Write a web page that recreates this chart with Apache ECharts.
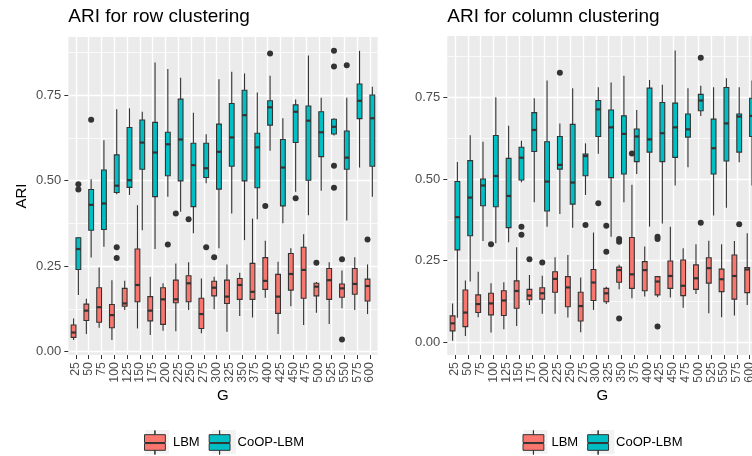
<!DOCTYPE html>
<html>
<head>
<meta charset="utf-8">
<script src="https://cdn.jsdelivr.net/npm/echarts@6/dist/echarts.min.js"></script>
<style>
  html, body { margin: 0; padding: 0; background: #fff; }
  #chart { width: 752px; height: 456px; }
</style>
</head>
<body>
<div id="chart"></div>
<script>
// number of groups G (x categories)
const G = ['25', '50', '75', '100', '125', '150', '175', '200', '225', '250', '275', '300',
  '325', '350', '375', '400', '425', '450', '475', '500', '525', '550', '575', '600']

// box stats per G: [lower whisker, Q1, median, Q3, upper whisker]
// row clustering
const rowLBM = [
  [0.034, 0.042, 0.056, 0.078, 0.097], [0.052, 0.091, 0.120, 0.139, 0.155], [0.070, 0.086, 0.130, 0.187, 0.246],
  [0.034, 0.070, 0.107, 0.138, 0.209], [0.122, 0.133, 0.141, 0.185, 0.207], [0.068, 0.146, 0.195, 0.300, 0.428],
  [0.049, 0.090, 0.120, 0.161, 0.219], [0.061, 0.080, 0.153, 0.187, 0.200], [0.060, 0.143, 0.153, 0.209, 0.258],
  [0.122, 0.146, 0.200, 0.222, 0.261], [0.054, 0.068, 0.110, 0.156, 0.214], [0.124, 0.163, 0.187, 0.206, 0.219],
  [0.058, 0.141, 0.161, 0.209, 0.255], [0.104, 0.153, 0.195, 0.214, 0.231], [0.100, 0.153, 0.175, 0.258, 0.389],
  [0.158, 0.182, 0.207, 0.275, 0.324], [0.052, 0.112, 0.161, 0.226, 0.263], [0.133, 0.180, 0.227, 0.287, 0.302],
  [0.078, 0.156, 0.239, 0.305, 0.343], [0.114, 0.163, 0.190, 0.200, 0.204], [0.081, 0.153, 0.209, 0.243, 0.261],
  [0.127, 0.159, 0.185, 0.198, 0.237], [0.122, 0.168, 0.198, 0.243, 0.276], [0.110, 0.148, 0.192, 0.212, 0.255]
]
const rowCoOP = [
  [0.166, 0.240, 0.300, 0.333, 0.335], [0.275, 0.355, 0.429, 0.474, 0.504], [0.307, 0.357, 0.433, 0.531, 0.618],
  [0.460, 0.465, 0.485, 0.575, 0.708], [0.458, 0.480, 0.501, 0.655, 0.711], [0.355, 0.533, 0.611, 0.677, 0.701],
  [0.300, 0.453, 0.582, 0.670, 0.845], [0.453, 0.514, 0.606, 0.641, 0.826], [0.409, 0.499, 0.620, 0.738, 0.800],
  [0.346, 0.424, 0.545, 0.609, 0.698], [0.492, 0.509, 0.536, 0.609, 0.635], [0.302, 0.475, 0.584, 0.665, 0.796],
  [0.404, 0.542, 0.626, 0.725, 0.818], [0.326, 0.499, 0.691, 0.764, 0.813], [0.387, 0.479, 0.597, 0.638, 0.757],
  [0.587, 0.662, 0.714, 0.733, 0.806], [0.375, 0.426, 0.538, 0.620, 0.682], [0.467, 0.611, 0.701, 0.721, 0.737],
  [0.399, 0.501, 0.675, 0.718, 0.865], [0.470, 0.570, 0.641, 0.701, 0.742], [0.632, 0.636, 0.657, 0.679, 0.682],
  [0.383, 0.533, 0.567, 0.645, 0.742], [0.538, 0.681, 0.733, 0.782, 0.879], [0.453, 0.542, 0.682, 0.750, 0.774]
]
// outliers: [G, ARI]
const rowLBMOut = [['225', 0.404], ['250', 0.387], ['300', 0.276], ['400', 0.426], ['500', 0.260],
  ['550', 0.270], ['550', 0.036], ['600', 0.328]]
const rowCoOPOut = [['25', 0.489], ['25', 0.474], ['50', 0.678], ['100', 0.305], ['100', 0.274],
  ['200', 0.313], ['275', 0.305], ['400', 0.871], ['450', 0.448], ['525', 0.879], ['525', 0.833],
  ['525', 0.543], ['525', 0.479], ['550', 0.837]]

// column clustering
const colLBM = [
  [0.005, 0.035, 0.058, 0.081, 0.119], [0.019, 0.048, 0.091, 0.160, 0.189], [0.077, 0.091, 0.117, 0.145, 0.216],
  [0.030, 0.084, 0.119, 0.150, 0.181], [0.040, 0.082, 0.128, 0.158, 0.184], [0.050, 0.104, 0.157, 0.188, 0.291],
  [0.114, 0.130, 0.143, 0.162, 0.206], [0.087, 0.132, 0.150, 0.167, 0.204], [0.087, 0.153, 0.194, 0.216, 0.260],
  [0.076, 0.109, 0.168, 0.201, 0.267], [0.031, 0.065, 0.111, 0.153, 0.198], [0.099, 0.128, 0.183, 0.223, 0.336],
  [0.117, 0.124, 0.150, 0.165, 0.170], [0.162, 0.184, 0.221, 0.230, 0.237], [0.135, 0.165, 0.208, 0.321, 0.482],
  [0.140, 0.158, 0.221, 0.247, 0.293], [0.138, 0.145, 0.186, 0.201, 0.203], [0.137, 0.165, 0.203, 0.249, 0.354],
  [0.106, 0.143, 0.173, 0.252, 0.288], [0.148, 0.162, 0.196, 0.237, 0.300], [0.089, 0.181, 0.227, 0.259, 0.311],
  [0.077, 0.155, 0.193, 0.224, 0.300], [0.082, 0.132, 0.203, 0.267, 0.310], [0.114, 0.152, 0.223, 0.229, 0.334]
]
const colCoOP = [
  [0.075, 0.283, 0.383, 0.492, 0.552], [0.186, 0.326, 0.443, 0.556, 0.634], [0.310, 0.418, 0.480, 0.500, 0.614],
  [0.303, 0.415, 0.509, 0.633, 0.750], [0.306, 0.351, 0.448, 0.563, 0.663], [0.490, 0.497, 0.565, 0.597, 0.617],
  [0.429, 0.584, 0.650, 0.703, 0.747], [0.354, 0.402, 0.492, 0.614, 0.801], [0.393, 0.530, 0.543, 0.630, 0.670],
  [0.351, 0.423, 0.489, 0.667, 0.778], [0.451, 0.510, 0.570, 0.576, 0.609], [0.577, 0.630, 0.713, 0.740, 0.781],
  [0.323, 0.504, 0.658, 0.711, 0.795], [0.429, 0.515, 0.638, 0.693, 0.816], [0.515, 0.553, 0.630, 0.653, 0.711],
  [0.354, 0.582, 0.621, 0.778, 0.803], [0.364, 0.553, 0.640, 0.734, 0.788], [0.480, 0.566, 0.658, 0.732, 0.893],
  [0.536, 0.628, 0.652, 0.699, 0.778], [0.693, 0.709, 0.740, 0.759, 0.785], [0.388, 0.515, 0.594, 0.683, 0.781],
  [0.412, 0.555, 0.670, 0.780, 0.808], [0.551, 0.582, 0.691, 0.699, 0.781], [0.480, 0.630, 0.693, 0.747, 0.801]
]
const colLBMOut = [['100', 0.300], ['175', 0.254], ['200', 0.244], ['325', 0.357], ['325', 0.277],
  ['350', 0.316], ['350', 0.308], ['350', 0.073], ['375', 0.578], ['425', 0.323], ['425', 0.316], ['425', 0.048]]
const colCoOPOut = [['150', 0.354], ['150', 0.329], ['225', 0.825], ['275', 0.359], ['300', 0.426],
  ['500', 0.871], ['500', 0.366], ['575', 0.361]]

const yTicks = [0, 0.25, 0.5, 0.75]
const yMinor = [0.125, 0.375, 0.625, 0.875]

const FONT = 'Liberation Sans, Arial, Helvetica, sans-serif'
const RED = '#F8766D'
const TEAL = '#00BFC4'
const DODGE = 0.1875 // box centre offset, in category units
const BOXW = 0.375 // box width, in category units

// one entry per facet
const panels = [
  { title: 'ARI for row clustering', left: 68.3, width: 309.3, top: 37, height: 318,
    yMin: -0.0096, yMax: 0.9194, yName: 'ARI', legendLeft: 144,
    lbm: rowLBM, coop: rowCoOP, lbmOut: rowLBMOut, coopOut: rowCoOPOut },
  { title: 'ARI for column clustering', left: 447.3, width: 310, top: 36, height: 319,
    yMin: -0.0389, yMax: 0.9376, yName: '', legendLeft: 522.5,
    lbm: colLBM, coop: colCoOP, lbmOut: colLBMOut, coopOut: colCoOPOut }
]

function boxRenderer (shift, fill) {
  return function (params, api) {
    const x = api.value(0)
    const lo = api.coord([x, api.value(1)])
    const q1 = api.coord([x, api.value(2)])
    const med = api.coord([x, api.value(3)])
    const q3 = api.coord([x, api.value(4)])
    const hi = api.coord([x, api.value(5)])
    const band = api.size([1, 0])[0]
    const cx = lo[0] + shift * band
    const w = band * BOXW
    const line = { stroke: '#333333', lineWidth: 1.1 }
    return {
      type: 'group',
      children: [
        { type: 'line', shape: { x1: cx, y1: hi[1], x2: cx, y2: q3[1] }, style: line },
        { type: 'line', shape: { x1: cx, y1: q1[1], x2: cx, y2: lo[1] }, style: line },
        { type: 'rect', shape: { x: cx - w / 2, y: q3[1], width: w, height: q1[1] - q3[1] },
          style: { fill: fill, stroke: '#333333', lineWidth: 1.1 } },
        { type: 'line', shape: { x1: cx - w / 2, y1: med[1], x2: cx + w / 2, y2: med[1] },
          style: { stroke: '#333333', lineWidth: 2.2 } }
      ]
    }
  }
}

function dotRenderer (shift) {
  return function (params, api) {
    const c = api.coord([api.value(0), api.value(1)])
    const band = api.size([1, 0])[0]
    return { type: 'circle', shape: { cx: c[0] + shift * band, cy: c[1], r: 3 }, style: { fill: '#333333' } }
  }
}

const keyIcon = 'path://M9.9,0L10.1,0L10.1,4L9.9,4Z M0,4L20,4L20,11.5L0,11.5Z M0,12.5L20,12.5L20,19L0,19Z M9.9,19L10.1,19L10.1,23L9.9,23Z'

const option = {
  animation: false,
  textStyle: { fontFamily: FONT },
  title: [],
  grid: [],
  xAxis: [],
  yAxis: [],
  legend: [],
  graphic: [],
  series: []
}

panels.forEach(function (p, k) {
  option.title.push({
    text: p.title, left: p.left, top: 7, padding: 0,
    textStyle: { fontSize: 19, fontWeight: 'normal', color: '#000', fontFamily: FONT }
  })
  option.grid.push({
    left: p.left, top: p.top, width: p.width, height: p.height,
    show: true, backgroundColor: '#EBEBEB', borderWidth: 0, containLabel: false, outerBoundsMode: 'none'
  })
  const idx = G.map(function (g, i) { return i })
  option.xAxis.push({
    type: 'value', gridIndex: k, min: -0.6, max: G.length - 0.4, position: 'bottom',
    axisLine: { show: false, onZero: false },
    axisTick: { show: true, length: 4, lineStyle: { color: '#333333', width: 1 }, customValues: idx },
    axisLabel: {
      customValues: idx, rotate: 90, margin: 7, fontSize: 12.4, color: '#4D4D4D', fontFamily: FONT,
      showMinLabel: true, showMaxLabel: true, hideOverlap: false, interval: 0,
      formatter: function (v) { return G[Math.round(v)] }
    },
    splitLine: { show: true, lineStyle: { color: '#FFFFFF', width: 1.4 } },
    name: 'G', nameLocation: 'middle', nameGap: 33, nameMoveOverlap: false,
    nameTextStyle: { fontSize: 15, color: '#000', fontFamily: FONT }
  })
  option.yAxis.push({
    type: 'value', gridIndex: k, min: p.yMin, max: p.yMax, position: 'left',
    axisLine: { show: false, onZero: false },
    axisTick: { show: true, length: 4, lineStyle: { color: '#333333', width: 1 }, customValues: yTicks },
    axisLabel: {
      customValues: yTicks, margin: 7, fontSize: 13, color: '#4D4D4D', fontFamily: FONT,
      showMinLabel: true, showMaxLabel: true,
      formatter: function (v) { return v.toFixed(2) }
    },
    splitLine: { show: true, lineStyle: { color: '#FFFFFF', width: 1.4 } },
    name: p.yName, nameLocation: 'middle', nameGap: 39, nameMoveOverlap: false,
    nameTextStyle: { fontSize: 15, color: '#000', fontFamily: FONT }
  }, {
    // minor grid lines only
    type: 'value', gridIndex: k, min: p.yMin, max: p.yMax, position: 'left',
    axisLine: { show: false, onZero: false },
    axisTick: { show: false, customValues: yMinor },
    axisLabel: { show: false },
    splitLine: { show: true, lineStyle: { color: '#FFFFFF', width: 0.7 } }
  })

  const yi = 2 * k
  option.series.push({
    name: 'LBM', type: 'custom', xAxisIndex: k, yAxisIndex: yi,
    renderItem: boxRenderer(-DODGE, RED),
    data: p.lbm.map(function (s, i) { return [i].concat(s) })
  }, {
    name: 'CoOP-LBM', type: 'custom', xAxisIndex: k, yAxisIndex: yi,
    renderItem: boxRenderer(DODGE, TEAL),
    data: p.coop.map(function (s, i) { return [i].concat(s) })
  }, {
    name: 'LBM', type: 'custom', xAxisIndex: k, yAxisIndex: yi,
    renderItem: dotRenderer(-DODGE),
    data: p.lbmOut.map(function (o) { return [G.indexOf(o[0]), o[1]] })
  }, {
    name: 'CoOP-LBM', type: 'custom', xAxisIndex: k, yAxisIndex: yi,
    renderItem: dotRenderer(DODGE),
    data: p.coopOut.map(function (o) { return [G.indexOf(o[0]), o[1]] })
  })

  option.legend.push({
    left: p.legendLeft, top: 430, orient: 'horizontal', padding: 0, z: 5,
    itemWidth: 26, itemHeight: 24, itemGap: 9, symbolKeepAspect: true,
    selectedMode: false,
    textStyle: { fontSize: 13, color: '#000', fontFamily: FONT },
    data: [
      { name: 'LBM', icon: keyIcon, itemStyle: { color: RED, borderColor: '#333333', borderWidth: 1 } },
      { name: 'CoOP-LBM', icon: keyIcon, itemStyle: { color: TEAL, borderColor: '#333333', borderWidth: 1 } }
    ]
  })
  // grey key backgrounds behind legend glyphs
  option.graphic.push(
    { type: 'rect', left: p.legendLeft + 1, top: 430, z: 1, shape: { width: 24, height: 24 }, style: { fill: '#F2F2F2' } },
    { type: 'rect', left: p.legendLeft + 68, top: 430, z: 1, shape: { width: 24, height: 24 }, style: { fill: '#F2F2F2' } }
  )
})

const chart = echarts.init(document.getElementById('chart'))
chart.setOption(option)
window.addEventListener('resize', function () { chart.resize() })
</script>
</body>
</html>
